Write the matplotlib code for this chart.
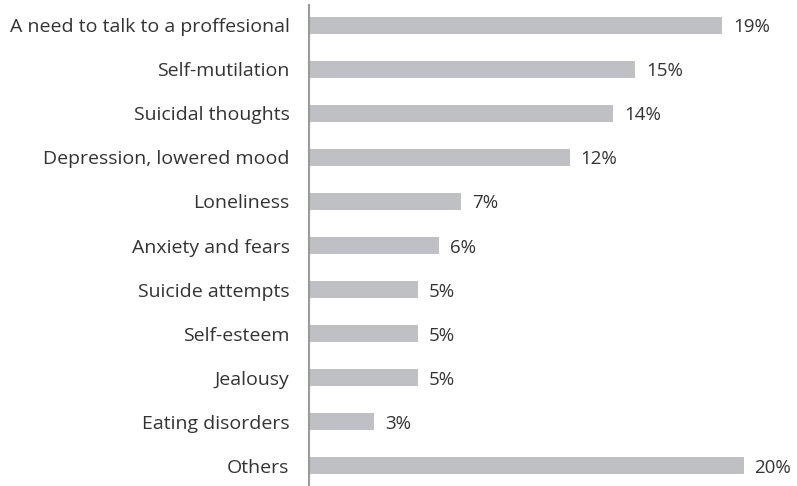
import matplotlib.pyplot as plt
import numpy as np

plt.rcParams['font.family'] = ['Open Sans', 'DejaVu Sans']

categories = ['A need to talk to a proffesional', 'Self-mutilation', 'Suicidal thoughts',
              'Depression, lowered mood', 'Loneliness', 'Anxiety and fears',
              'Suicide attempts', 'Self-esteem', 'Jealousy', 'Eating disorders', 'Others']
values = [19, 15, 14, 12, 7, 6, 5, 5, 5, 3, 20]

fig = plt.figure(figsize=(7.97, 4.86), dpi=100)
ax = fig.add_axes([309 / 797, 0, 488 / 797, 481 / 486])

y = np.arange(len(categories))
ax.barh(y, values, height=0.39, color='#bfc0c3')
for yi, v in zip(y, values):
    ax.text(v + 0.5, yi, f'{v}%', va='center_baseline', ha='left', fontsize=13.5, color='#333333')

ax.set_yticks(y)
ax.set_yticklabels(categories, fontsize=14, color='#333333', va='center_baseline')
ax.tick_params(axis='y', length=0, pad=14)
ax.set_xticks([])
ax.set_xlim(0, 22.45)
ax.set_ylim(10.46, -0.46)
for s in ['top', 'right', 'bottom']:
    ax.spines[s].set_visible(False)
ax.spines['left'].set_color('#9a9a9a')
ax.spines['left'].set_linewidth(1.5)

fig.savefig('out.png', dpi=100)
